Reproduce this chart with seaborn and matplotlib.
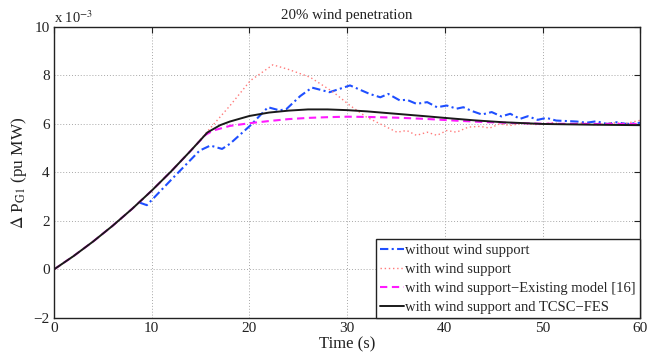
import matplotlib
matplotlib.use("Agg")
import matplotlib.pyplot as plt
import seaborn as sns
import pandas as pd

# Generator power deviation, in units of 1e-3 pu MW
t_no_wind = [8.8, 9.5, 12, 14.9, 16.0, 17.2, 18.0, 20.1, 21.9, 23.1, 23.8, 25.2, 26.4,
             28.2, 30.3, 32.3, 33.4, 34.2, 35.4, 36.1, 37.1, 38.2, 39.2, 40.2, 41.2,
             41.9, 42.8, 43.8, 44.8, 45.8, 46.7, 47.7, 48.5, 49.5, 50.4, 51.4, 52.5,
             53.5, 54.5, 55.5, 56.6, 57.6, 58.6, 60]
p_no_wind = [2.75, 2.65, 3.7, 4.9, 5.11, 4.97, 5.18, 5.94, 6.69, 6.56, 6.62, 7.15, 7.5,
             7.31, 7.59, 7.24, 7.1, 7.24, 6.97, 7.0, 6.83, 6.9, 6.69, 6.76, 6.63,
             6.69, 6.53, 6.39, 6.49, 6.31, 6.42, 6.21, 6.32, 6.17, 6.25, 6.14, 6.12,
             6.1, 6.05, 6.11, 6.0, 6.07, 6.0, 6.05]

t_wind = [0, 2, 4, 6, 8, 10, 12, 14, 15.5, 18, 20.1, 22.4, 24, 26.2, 28.6, 30.3, 32,
          33.7, 35.1, 36.1, 37.1, 38.2, 39.2, 40.2, 41.2, 42.4, 43.6, 44.6, 45.6,
          46.7, 48, 49.5, 51, 52.5, 54, 55.5, 57, 58.5, 60]
p_wind = [0, 0.55, 1.15, 1.8, 2.5, 3.25, 4.05, 4.9, 5.6, 6.75, 7.79, 8.44, 8.25, 7.93,
          7.31, 6.76, 6.28, 5.94, 5.66, 5.73, 5.53, 5.66, 5.53, 5.73, 5.66, 5.87,
          5.9, 5.83, 6.0, 5.94, 6.03, 5.97, 6.05, 5.98, 6.04, 5.96, 6.05, 6.02, 6.15]

t_existing = [0, 2, 4, 6, 8, 10, 12, 14, 15.5, 16.3, 18, 20, 22, 24, 26, 28, 30, 32,
              35, 38, 41, 44, 47, 50, 55, 60]
p_existing = [0, 0.55, 1.15, 1.8, 2.5, 3.25, 4.05, 4.9, 5.55, 5.73, 5.92, 6.03, 6.12,
              6.2, 6.25, 6.28, 6.3, 6.29, 6.26, 6.21, 6.14, 6.08, 6.04, 6.01, 6.0, 6.0]

t_tcsc = [0, 2, 4, 6, 8, 10, 12, 14, 15.7, 17, 18, 20, 22, 24, 26, 28, 30, 32, 35, 38,
          40, 43, 46, 50, 55, 60]
p_tcsc = [0, 0.55, 1.15, 1.8, 2.5, 3.25, 4.05, 4.9, 5.65, 5.95, 6.1, 6.33, 6.47, 6.55,
          6.6, 6.6, 6.57, 6.52, 6.42, 6.32, 6.25, 6.15, 6.07, 6.0, 5.97, 5.95]

labels = ["without wind support",
          "with wind support",
          "with wind support\u2212Existing model [16]",
          "with wind support and TCSC\u2212FES"]

x_ticks = [0, 10, 20, 30, 40, 50, 60]
y_ticks = [-2, 0, 2, 4, 6, 8, 10]

sns.set_style("white")
plt.rcParams["font.family"] = ["Liberation Serif", "DejaVu Serif"]
plt.rcParams["mathtext.fontset"] = "stix"
plt.rcParams["axes.unicode_minus"] = True

fig = plt.figure(figsize=(6.47, 3.6), dpi=100)
ax = fig.add_axes([0.0835, 0.117, 0.906, 0.808])

series = [
    (t_no_wind, p_no_wind, labels[0], dict(color="#1f4fff", lw=1.5, dashes=(4, 1.6, 1, 1.6))),
    (t_wind, p_wind, labels[1], dict(color="#ff7a7a", lw=1.0, dashes=(1, 2))),
    (t_existing, p_existing, labels[2], dict(color="#ff1aff", lw=1.5, dashes=(3.5, 2.2))),
    (t_tcsc, p_tcsc, labels[3], dict(color="#1a1a1a", lw=1.4)),
]
for t, p, lab, style in series:
    df = pd.DataFrame({"t": t, "p": p})
    line_kw = dict(color=style["color"], linewidth=style["lw"], label=lab)
    sns.lineplot(data=df, x="t", y="p", ax=ax, sort=False, estimator=None, **line_kw)
    if "dashes" in style:
        ax.lines[-1].set_dashes(style["dashes"])

ax.set_xlim(0, 60)
ax.set_ylim(-2, 10)
ax.set_xticks(x_ticks)
ax.set_yticks(y_ticks)
ax.set_xticklabels([str(v) for v in x_ticks])
ax.set_yticklabels([str(v).replace("-", "\u2212") for v in y_ticks])
ax.tick_params(direction="in", top=True, right=True, length=4, width=0.8,
               labelsize=11, colors="#222222", pad=3)
ax.grid(True, linestyle=(0, (1, 2)), color="#a8a8a8", linewidth=0.7)
for s in ax.spines.values():
    s.set_visible(True)
    s.set_color("#222222")
    s.set_linewidth(1.0)

ax.set_title("20% wind penetration", fontsize=10.7, color="#222222", pad=6)
ax.set_xlabel("Time (s)", fontsize=12, color="#222222", labelpad=1)
ax.set_ylabel(r"$\Delta$ P$_{\rm G1}$ (pu MW)", fontsize=12.4, color="#222222", labelpad=3)
ax.text(0.0, 1.005, r"x 10$^{-3}$", transform=ax.transAxes, fontsize=10.5,
        color="#222222", ha="left", va="bottom")

leg = ax.legend(loc="lower right", fontsize=10.5, frameon=True, fancybox=False,
                borderaxespad=0.0, handlelength=1.6, handletextpad=0.12,
                labelspacing=0.4, borderpad=0.28)
leg.get_frame().set_edgecolor("#222222")
leg.get_frame().set_linewidth(1.0)
leg.get_frame().set_alpha(1.0)

fig.savefig("out.png", dpi=100)
